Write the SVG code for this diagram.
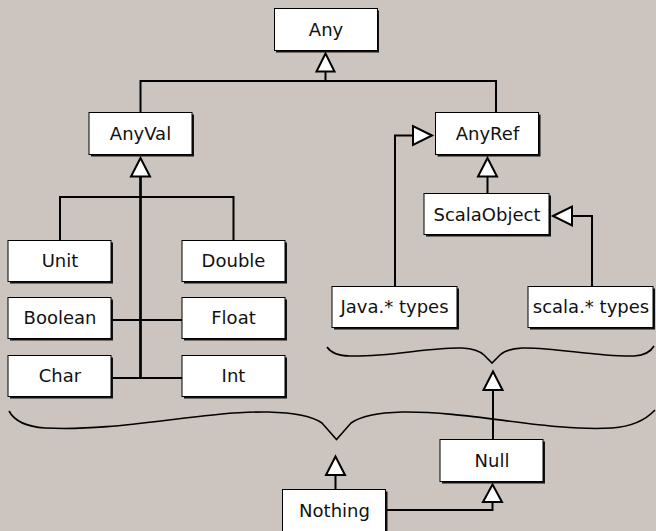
<svg xmlns="http://www.w3.org/2000/svg" width="656" height="531" viewBox="0 0 656 531">
<style>
.sh{fill:#111;}
.bx{fill:#fff;stroke:#000;stroke-width:1;}
.lb{font-family:"DejaVu Sans",sans-serif;font-size:18px;fill:#111;text-anchor:middle;}
.ln{fill:none;stroke:#000;stroke-width:2;}
.ar{fill:#fff;stroke:#000;stroke-width:2;stroke-linejoin:miter;}
.br{fill:none;stroke:#000;stroke-width:1.6;}
</style>
<rect width="656" height="531" fill="#cbc4bf"/>
<g id="connectors">
<path class="ln" d="M325.5,71.5V81M140.5,81H496M140.5,80V112M496,80V112"/>
<path class="ln" style="stroke-width:2.7" d="M140.5,176V379"/>
<path class="ln" d="M60,197H233.5M60,196V240M233.5,196V240M112,320H182M112,378H182"/>
<path class="ln" d="M412,135.5H395V286"/>
<path class="ln" d="M487.5,176V193"/>
<path class="ln" d="M573,216H592V286"/>
<path class="ln" d="M493,390V439"/>
<path class="ln" d="M335.5,475V489"/>
<path class="ln" d="M386,510H492.5V502"/>
<path class="ar" d="M325.5,53.5L334.5,71.5H316.5Z"/>
<path class="ar" d="M140.5,158L150,176.5H131Z"/>
<path class="ar" d="M432,135.5L413,126V145Z"/>
<path class="ar" d="M487.5,158L497,176.5H478Z"/>
<path class="ar" d="M553,216L572,206.5V225.5Z"/>
<path class="ar" d="M493,371.5L502.5,390H483.5Z"/>
<path class="ar" d="M335.5,456.5L345,475H326Z"/>
<path class="ar" d="M492.5,484.5L502,502H483Z"/>
<path class="br" d="M327,347Q333,356 350,356C390,357 430,347 462,348Q478,349 484,355L492,363L500,355Q506,349 522,348C555,347 595,357 634,356Q649,355 654,346"/>
<path class="br" d="M9,411Q17,426 45,428C120,432 200,411 268,412Q308,413 322,423L336.5,439.5L351,423Q365,413 402,412C470,411 550,432 612,428Q640,426 655,410"/>
</g>
<g id="n-any"><rect class="sh" x="276" y="10.5" width="103" height="42"/><rect class="bx" x="274.5" y="8.5" width="103" height="42"/><text class="lb" x="326" y="36">Any</text></g>
<g id="n-anyval"><rect class="sh" x="91" y="114.5" width="103" height="42"/><rect class="bx" x="89" y="112.5" width="103" height="42"/><text class="lb" x="140.5" y="140">AnyVal</text></g>
<g id="n-anyref"><rect class="sh" x="437.5" y="114.5" width="103" height="42"/><rect class="bx" x="435.5" y="112.5" width="103" height="42"/><text class="lb" x="487.5" y="140">AnyRef</text></g>
<g id="n-scalaobject"><rect class="sh" x="426" y="195.5" width="125" height="41"/><rect class="bx" x="424" y="193.5" width="125" height="41"/><text class="lb" x="487" y="220.5">ScalaObject</text></g>
<g id="n-unit"><rect class="sh" x="10" y="242.5" width="103" height="41"/><rect class="bx" x="8" y="240.5" width="103" height="41"/><text class="lb" x="60" y="267">Unit</text></g>
<g id="n-double"><rect class="sh" x="184" y="242.5" width="103" height="41"/><rect class="bx" x="182" y="240.5" width="103" height="41"/><text class="lb" x="233.5" y="267">Double</text></g>
<g id="n-boolean"><rect class="sh" x="10" y="299.5" width="103" height="41"/><rect class="bx" x="8" y="297.5" width="103" height="41"/><text class="lb" x="60" y="324">Boolean</text></g>
<g id="n-float"><rect class="sh" x="184" y="299.5" width="103" height="41"/><rect class="bx" x="182" y="297.5" width="103" height="41"/><text class="lb" x="233.5" y="324">Float</text></g>
<g id="n-char"><rect class="sh" x="10" y="357.5" width="103" height="41"/><rect class="bx" x="8" y="355.5" width="103" height="41"/><text class="lb" x="60" y="382">Char</text></g>
<g id="n-int"><rect class="sh" x="184" y="357.5" width="103" height="41"/><rect class="bx" x="182" y="355.5" width="103" height="41"/><text class="lb" x="233.5" y="382">Int</text></g>
<g id="n-java"><rect class="sh" x="334" y="288.5" width="125" height="41"/><rect class="bx" x="332" y="286.5" width="125" height="41"/><text class="lb" x="394.5" y="313">Java.* types</text></g>
<g id="n-scala"><rect class="sh" x="530" y="288.5" width="125" height="41"/><rect class="bx" x="528" y="286.5" width="125" height="41"/><text class="lb" x="591" y="313">scala.* types</text></g>
<g id="n-null"><rect class="sh" x="442" y="441.5" width="103" height="42"/><rect class="bx" x="440" y="439.5" width="103" height="42"/><text class="lb" x="492" y="467">Null</text></g>
<g id="n-nothing"><rect class="sh" x="284.5" y="491.5" width="103" height="42"/><rect class="bx" x="282.5" y="489.5" width="103" height="42"/><text class="lb" x="334.5" y="517">Nothing</text></g>
</svg>
